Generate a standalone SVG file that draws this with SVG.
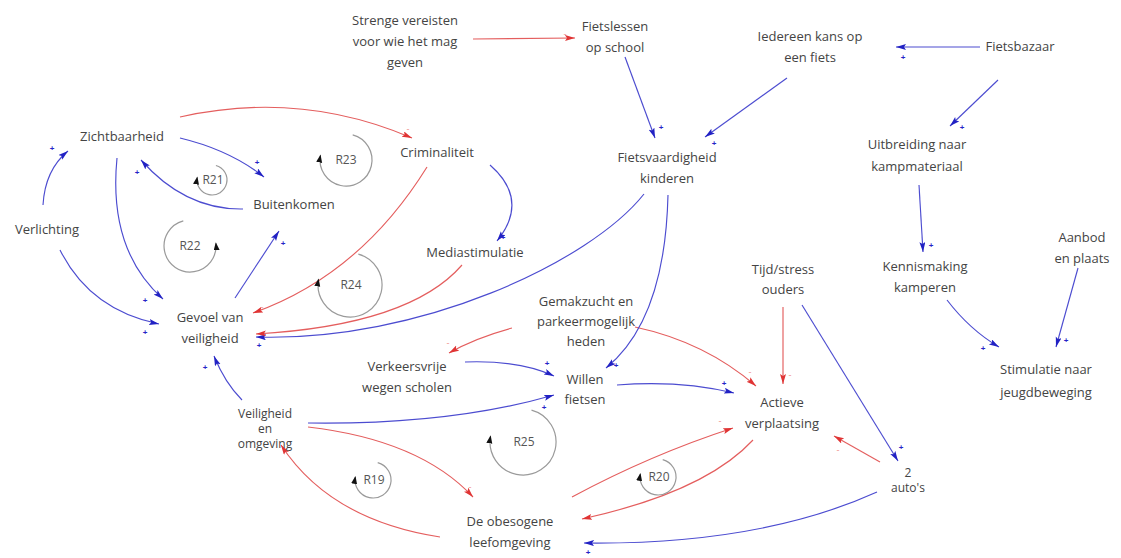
<svg xmlns="http://www.w3.org/2000/svg" width="1121" height="558" viewBox="0 0 1121 558">
<defs>
<style>
.t{font-family:"Open Sans","Liberation Sans",sans-serif;font-size:13px;fill:#444;text-anchor:middle}
.s{font-size:12px}
.b{fill:none;stroke:#4c4cd0;stroke-width:1.15}
.r{fill:none;stroke:#e45e5e;stroke-width:1.15}
.lp{fill:none;stroke:#9a9a9a;stroke-width:1.2}
.lt{font-family:"Open Sans","Liberation Sans",sans-serif;font-size:12px;fill:#555;text-anchor:middle}
.pp{font-family:"Liberation Sans",sans-serif;font-size:8px;fill:#2424c8;font-weight:bold;text-anchor:middle}
.pm{font-family:"Liberation Sans",sans-serif;font-size:9px;fill:#f09090;text-anchor:middle}
</style>
<marker id="ab" markerUnits="userSpaceOnUse" markerWidth="12" markerHeight="8" refX="10" refY="3" orient="auto"><path d="M0,0 L10,3 L0,6 L2,3 z" fill="#2222c4"/></marker>
<marker id="ar" markerUnits="userSpaceOnUse" markerWidth="12" markerHeight="8" refX="10" refY="3" orient="auto"><path d="M0,0 L10,3 L0,6 L2,3 z" fill="#e03434"/></marker>
<marker id="al" markerUnits="userSpaceOnUse" markerWidth="10" markerHeight="8" refX="7" refY="3" orient="auto"><path d="M0,0 L8,3 L0,6 z" fill="#111"/></marker>
</defs>
<rect width="1121" height="558" fill="#fff"/>

<g id="connectors">
<path class="r" marker-end="url(#ar)" d="M473 39 L575 38"/>
<path class="b" marker-end="url(#ab)" d="M625 57 L655 138"/>
<path class="b" marker-end="url(#ab)" d="M787 78 L705 137"/>
<path class="b" marker-end="url(#ab)" d="M980 47 L896 47"/>
<path class="b" marker-end="url(#ab)" d="M998 80 L950 126"/>
<path class="b" marker-end="url(#ab)" d="M919 185 L923 252"/>
<path class="b" marker-end="url(#ab)" d="M947 300 Q970 330 999 347"/>
<path class="b" marker-end="url(#ab)" d="M1078 268 L1056 347"/>
<path class="r" marker-end="url(#ar)" d="M783 307 L783 384"/>
<path class="b" marker-end="url(#ab)" d="M802 305 L898 461"/>
<path class="r" marker-end="url(#ar)" d="M880 462 L834 436"/>
<path class="b" marker-end="url(#ab)" d="M877 492 Q760 545 584 543"/>
<path class="r" marker-end="url(#ar)" d="M753 440 Q705 492 582 519"/>
<path class="r" marker-end="url(#ar)" d="M572 497 Q650 455 733 428"/>
<path class="b" marker-end="url(#ab)" d="M617 385 Q680 380 734 393"/>
<path class="r" marker-end="url(#ar)" d="M635 327 Q705 342 756 386"/>
<path class="r" marker-end="url(#ar)" d="M512 328 Q475 338 449 353"/>
<path class="b" marker-end="url(#ab)" d="M465 362 Q520 360 554 376"/>
<path class="b" marker-end="url(#ab)" d="M668 195 Q665 320 606 368"/>
<path class="b" marker-end="url(#ab)" d="M644 194 C590 262 420 342 256 337"/>
<path class="r" marker-end="url(#ar)" d="M462 265 Q410 325 256 334"/>
<path class="r" marker-end="url(#ar)" d="M427 167 Q360 275 253 313"/>
<path class="b" marker-end="url(#ab)" d="M490 165 Q530 200 497 241"/>
<path class="r" marker-end="url(#ar)" d="M180 117 Q300 90 412 138"/>
<path class="b" marker-end="url(#ab)" d="M180 138 Q230 150 264 177"/>
<path class="b" marker-end="url(#ab)" d="M243 209 Q185 210 141 160"/>
<path class="b" marker-end="url(#ab)" d="M117 158 Q108 250 163 299"/>
<path class="b" marker-end="url(#ab)" d="M43 205 Q45 170 68 151"/>
<path class="b" marker-end="url(#ab)" d="M60 250 Q90 310 159 324"/>
<path class="b" marker-end="url(#ab)" d="M235 298 L279 231"/>
<path class="b" marker-end="url(#ab)" d="M242 400 Q225 383 214 356"/>
<path class="b" marker-end="url(#ab)" d="M308 423 Q450 425 554 395"/>
<path class="r" marker-end="url(#ar)" d="M308 427 Q420 440 473 497"/>
<path class="r" marker-end="url(#ar)" d="M440 537 Q330 520 281 445"/>
</g>

<g id="polarities">
<text class="pp" x="661" y="130">+</text>
<text class="pp" x="714" y="146">+</text>
<text class="pp" x="903" y="60">+</text>
<text class="pp" x="962" y="130">+</text>
<text class="pp" x="931" y="248">+</text>
<text class="pp" x="983" y="351">+</text>
<text class="pp" x="1066" y="343">+</text>
<text class="pp" x="901" y="450">+</text>
<text class="pp" x="588" y="555">+</text>
<text class="pp" x="724" y="386">+</text>
<text class="pp" x="547" y="366">+</text>
<text class="pp" x="616" y="368">+</text>
<text class="pp" x="259" y="348">+</text>
<text class="pp" x="503" y="240">+</text>
<text class="pp" x="257" y="165">+</text>
<text class="pp" x="137" y="175">+</text>
<text class="pp" x="145" y="303">+</text>
<text class="pp" x="52" y="151">+</text>
<text class="pp" x="145" y="335">+</text>
<text class="pp" x="283" y="246">+</text>
<text class="pp" x="205" y="370">+</text>
<text class="pp" x="544" y="410">+</text>
<text class="pm" x="790" y="378">-</text>
<text class="pm" x="838" y="453">-</text>
<text class="pm" x="750" y="375">-</text>
<text class="pm" x="720" y="424">-</text>
<text class="pm" x="448" y="346">-</text>
<text class="pm" x="470" y="490">-</text>
<text class="pm" x="565" y="37">-</text>
<text class="pm" x="408" y="132">-</text>
<text class="pm" x="262" y="310">-</text>
</g>

<g id="loops">
<g id="loop-R21"><path class="lp" marker-end="url(#al)" d="M215.9 165.5 A15 15 0 1 1 197.2 177.4"/><text class="lt" x="213" y="184">R21</text></g>
<g id="loop-R23"><path class="lp" marker-end="url(#al)" d="M352.7 134.9 A26 26 0 1 1 320.4 155.5"/><text class="lt" x="346" y="164">R23</text></g>
<g id="loop-R22"><path class="lp" marker-end="url(#al)" d="M183.3 220.9 A26 26 0 1 0 215.9 243.3"/><text class="lt" x="190" y="250">R22</text></g>
<g id="loop-R24"><path class="lp" marker-end="url(#al)" d="M358.3 254.1 A32 32 0 1 1 318.5 279.4"/><text class="lt" x="351" y="289">R24</text></g>
<g id="loop-R25"><path class="lp" marker-end="url(#al)" d="M531.5 410.1 A33 33 0 1 1 490.5 436.3"/><text class="lt" x="524" y="446">R25</text></g>
<g id="loop-R19"><path class="lp" marker-end="url(#al)" d="M377.7 462.6 A18 18 0 1 1 355.3 476.9"/><text class="lt" x="374" y="484">R19</text></g>
<g id="loop-R20"><path class="lp" marker-end="url(#al)" d="M662.7 459.6 A18 18 0 1 1 640.3 473.9"/><text class="lt" x="659" y="481">R20</text></g>
</g>

<g id="strenge"><text class="t" x="405" y="25">Strenge vereisten</text><text class="t" x="405" y="46">voor wie het mag</text><text class="t" x="405" y="67">geven</text></g>
<g id="fietslessen"><text class="t" x="615" y="31">Fietslessen</text><text class="t" x="615" y="52">op school</text></g>
<g id="iedereen"><text class="t" x="810" y="41">Iedereen kans op</text><text class="t" x="810" y="62">een fiets</text></g>
<g id="fietsbazaar"><text class="t" x="1020" y="51">Fietsbazaar</text></g>
<g id="zichtbaarheid"><text class="t" x="122" y="141">Zichtbaarheid</text></g>
<g id="criminaliteit"><text class="t" x="437" y="157">Criminaliteit</text></g>
<g id="fietsvaardigheid"><text class="t" x="667" y="162">Fietsvaardigheid</text><text class="t" x="667" y="183">kinderen</text></g>
<g id="uitbreiding"><text class="t" x="917" y="149">Uitbreiding naar</text><text class="t" x="917" y="171">kampmateriaal</text></g>
<g id="buitenkomen"><text class="t" x="294" y="209">Buitenkomen</text></g>
<g id="verlichting"><text class="t" x="47" y="234">Verlichting</text></g>
<g id="mediastimulatie"><text class="t" x="475" y="257">Mediastimulatie</text></g>
<g id="aanbod"><text class="t" x="1082" y="242">Aanbod</text><text class="t" x="1082" y="263">en plaats</text></g>
<g id="tijdstress"><text class="t" x="783" y="274">Tijd/stress</text><text class="t" x="783" y="294">ouders</text></g>
<g id="kennismaking"><text class="t" x="925" y="271">Kennismaking</text><text class="t" x="925" y="292">kamperen</text></g>
<g id="gevoel"><text class="t" x="210" y="322">Gevoel van</text><text class="t" x="210" y="343">veiligheid</text></g>
<g id="gemakzucht"><text class="t" x="586" y="306">Gemakzucht en</text><text class="t" x="586" y="326">parkeermogelijk</text><text class="t" x="586" y="346">heden</text></g>
<g id="verkeersvrije"><text class="t" x="407" y="371">Verkeersvrije</text><text class="t" x="407" y="392">wegen scholen</text></g>
<g id="willen"><text class="t" x="585" y="384">Willen</text><text class="t" x="585" y="404">fietsen</text></g>
<g id="actieve"><text class="t" x="782" y="407">Actieve</text><text class="t" x="782" y="428">verplaatsing</text></g>
<g id="stimulatie"><text class="t" x="1046" y="374">Stimulatie naar</text><text class="t" x="1046" y="397">jeugdbeweging</text></g>
<g id="veiligheid"><text class="t s" x="265" y="418">Veiligheid</text><text class="t s" x="265" y="433">en</text><text class="t s" x="265" y="448">omgeving</text></g>
<g id="autos"><text class="t s" x="908" y="477">2</text><text class="t s" x="908" y="492">auto's</text></g>
<g id="obesogene"><text class="t" x="510" y="526">De obesogene</text><text class="t" x="510" y="547">leefomgeving</text></g>
</svg>
